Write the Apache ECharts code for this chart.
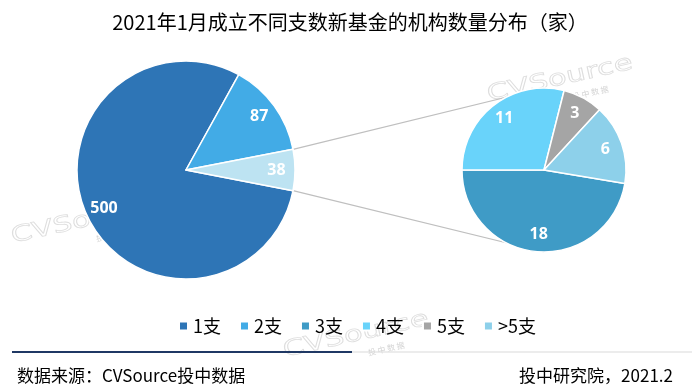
<!DOCTYPE html>
<html>
<head>
<meta charset="utf-8">
<script src="https://cdn.jsdelivr.net/npm/echarts@6/dist/echarts.min.js"></script>
<style>
html,body{margin:0;padding:0;background:#fff;}
#chart{width:700px;height:386px;}
</style>
</head>
<body>
<div id="chart"></div>
<script>
// ---- data ----
const titleText = '2021年1月成立不同支数新基金的机构数量分布（家）';
const sourceText = '数据来源：CVSource投中数据';
const creditText = '投中研究院，2021.2';
const legendNames = ['1支', '2支', '3支', '4支', '5支', '>5支'];
const mainNames = ['1支', '2支', '3支及以上'];
const mainValues = [500, 87, 38];
const subNames = ['3支', '4支', '5支', '>5支'];
const subValues = [18, 11, 3, 6];

// ---- styles ----
const mainColors = ['#2E75B6', '#42ABE6', '#BDE3F2'];
const subColors = ['#3F9BC6', '#69D3FA', '#A5A5A5', '#8DD0EA'];
const FONT = "'Noto Sans CJK SC', 'Noto Sans', sans-serif";
const L = { cx: 186, cy: 170, r: 109, k: 0.83 };
const S = { cx: 544, cy: 170, r: 82, k: 0.79 };

const sum = a => a.reduce((s, v) => s + v, 0);
const mainTotal = sum(mainValues);
const subTotal = sum(subValues);
const otherVal = mainValues[mainValues.length - 1];
// left pie: the "3支及以上" slice is centred on the horizontal, facing the sub pie
const mainStart = -otherVal / mainTotal * 180;
// right pie: the first slice ends at the left horizontal
const subStart = 180 + subValues[0] / subTotal * 360;

function labelOffsets(values, start, r, k) {
  const total = sum(values);
  let cum = 0;
  return values.map(v => {
    const mid = (start - (cum + v / 2) / total * 360) * Math.PI / 180;
    cum += v;
    const d = k * r - (r / 2 + 3);
    return [d * Math.cos(mid), -d * Math.sin(mid)];
  });
}
const mainOffsets = labelOffsets(mainValues, mainStart, L.r, L.k);
const subOffsets = labelOffsets(subValues, subStart, S.r, S.k);

const mainData = mainValues.map((v, i) => ({
  name: mainNames[i], value: v,
  itemStyle: { color: mainColors[i] },
  label: { offset: mainOffsets[i] }
}));
const subData = subValues.map((v, i) => ({
  name: subNames[i], value: v,
  itemStyle: { color: subColors[i] },
  label: { offset: subOffsets[i] }
}));

// connector lines from the edges of the "other" slice to the top / bottom of the sub pie
const half = otherVal / mainTotal * Math.PI; // half of the slice angle (rad)
const ex = L.cx + L.r * Math.cos(half);
const eyTop = L.cy - L.r * Math.sin(half);
const eyBot = L.cy + L.r * Math.sin(half);

function watermark(x, y) {
  return {
    type: 'group', x: x, y: y, rotation: 0.22, silent: true,
    children: [
      { type: 'text', x: 0, y: 0, scaleX: 1.4,
        style: { text: 'CVSource', font: '22px "DejaVu Sans"', fill: 'rgba(0,0,0,0)',
                 stroke: '#DEDEDE', lineWidth: 0.8, textVerticalAlign: 'bottom' } },
      { type: 'text', x: 82, y: 5,
        style: { text: '投 中 数 据', font: '8px "Noto Sans CJK SC"', fill: '#D4D4D4',
                 textVerticalAlign: 'top' } }
    ]
  };
}

const chart = echarts.init(document.getElementById('chart'), null, { renderer: 'canvas' });
const pieLabel = {
  show: true, position: 'inside', formatter: '{c}', color: '#fff',
  fontSize: 16, fontWeight: 'bold', fontFamily: "'Open Sans', 'Noto Sans', sans-serif"
};
chart.setOption({
  animation: false,
  backgroundColor: '#fff',
  title: [
    { text: titleText, left: 'center', top: 7,
      textStyle: { fontSize: 20, fontWeight: 'normal', color: '#000', fontFamily: FONT } },
    { text: sourceText, left: 12, top: 362,
      textStyle: { fontSize: 17, fontWeight: 'normal', color: '#000', fontFamily: FONT } },
    { text: creditText, right: 22, top: 362,
      textStyle: { fontSize: 17, fontWeight: 'normal', color: '#000', fontFamily: FONT } }
  ],
  legend: {
    data: legendNames, left: 173, top: 312, icon: 'rect', zlevel: 1,
    itemWidth: 9, itemHeight: 9, itemGap: 18,
    textStyle: { fontSize: 18, color: '#000', fontFamily: FONT }
  },
  graphic: [
    watermark(14, 248),
    watermark(490, 106),
    watermark(286, 362),
    { type: 'line', silent: true,
      shape: { x1: ex, y1: eyTop, x2: S.cx, y2: S.cy - S.r },
      style: { stroke: '#BFBFBF', lineWidth: 1.2 } },
    { type: 'line', silent: true,
      shape: { x1: ex, y1: eyBot, x2: S.cx, y2: S.cy + S.r },
      style: { stroke: '#BFBFBF', lineWidth: 1.2 } },
    { type: 'line', silent: true,
      shape: { x1: 352, y1: 352, x2: 692, y2: 352 },
      style: { stroke: '#D9D9D9', lineWidth: 1 } },
    { type: 'line', silent: true,
      shape: { x1: 12, y1: 352, x2: 352, y2: 352 },
      style: { stroke: '#1F3864', lineWidth: 2 } }
  ],
  series: [
    {
      type: 'pie', name: 'main', center: [L.cx, L.cy], radius: [0, L.r], zlevel: 1,
      startAngle: mainStart, clockwise: true, avoidLabelOverlap: false,
      itemStyle: { borderColor: '#fff', borderWidth: 1.5 },
      label: pieLabel, labelLine: { show: false },
      emphasis: { disabled: true },
      data: mainData
    },
    {
      type: 'pie', name: 'sub', center: [S.cx, S.cy], radius: [0, S.r], zlevel: 1,
      startAngle: subStart, clockwise: true, avoidLabelOverlap: false,
      itemStyle: { borderColor: '#fff', borderWidth: 1.5 },
      label: pieLabel, labelLine: { show: false },
      emphasis: { disabled: true },
      data: subData
    }
  ]
});
</script>
</body>
</html>
